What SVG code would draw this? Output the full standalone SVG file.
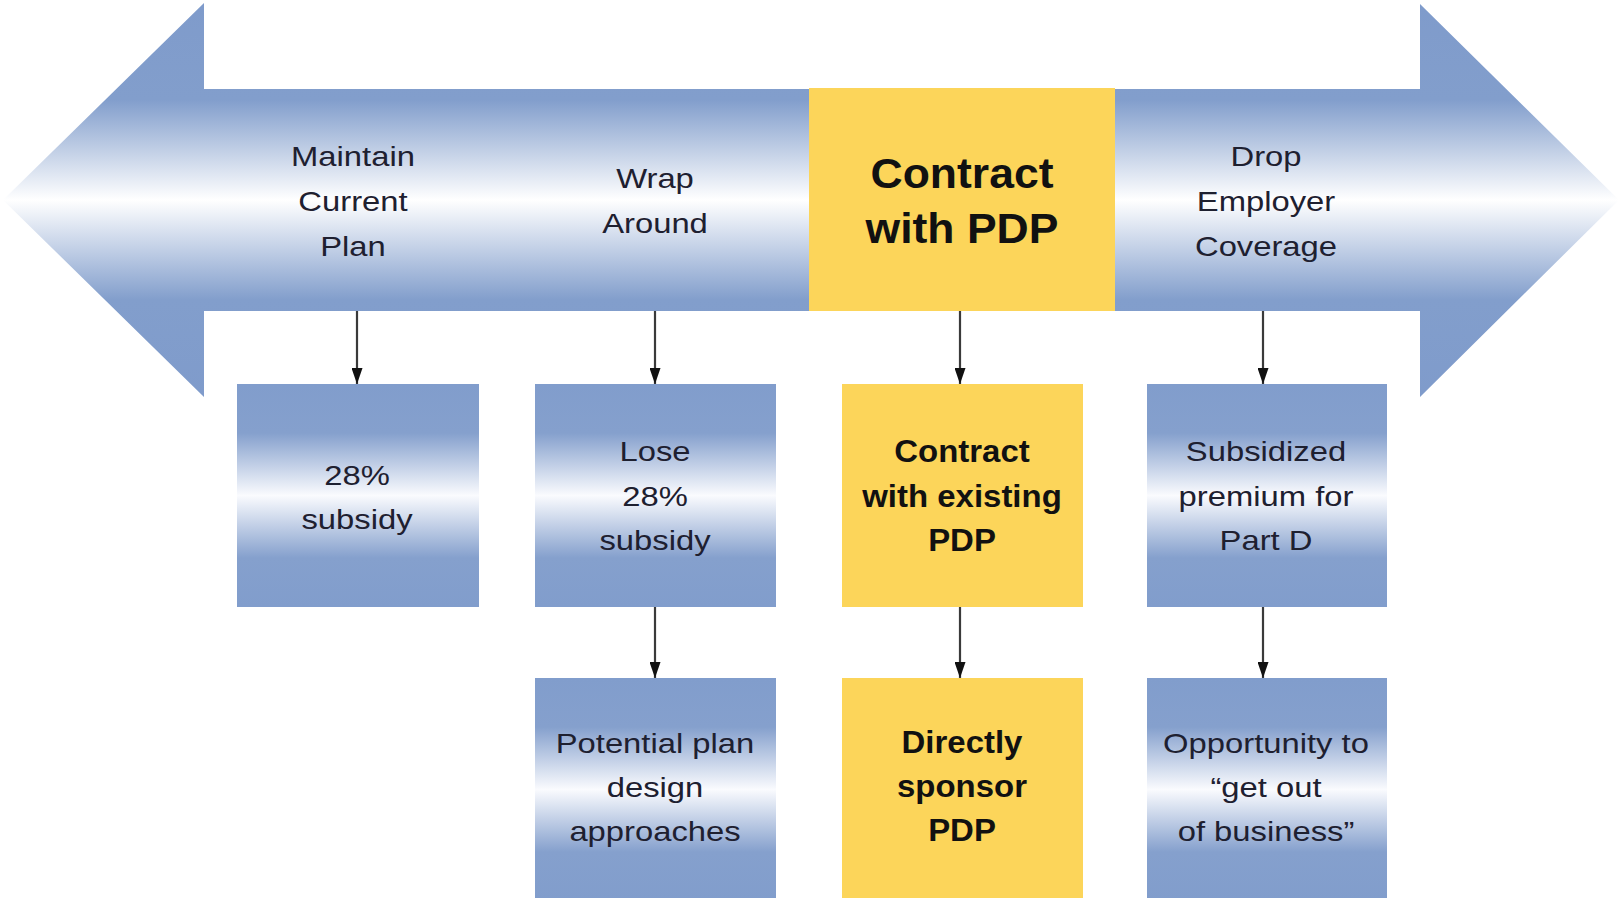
<svg xmlns="http://www.w3.org/2000/svg" width="1623" height="898" viewBox="0 0 1623 898">
  <defs>
    <style>
      .lbl { font-family: "Liberation Sans", Arial, sans-serif; font-size: 28.5px; fill: #1e2030; text-anchor: middle; }
      .bold { font-family: "Liberation Sans", Arial, sans-serif; font-weight: bold; fill: #111111; text-anchor: middle; }
      .big { font-size: 42px; }
      .mid { font-size: 32px; }
      .blue { fill: url(#boxFade); }
      .gold { fill: #fcd55a; }
      .wire { stroke: #3a3a3a; stroke-width: 2.2; fill: none; marker-end: url(#tip); }
    </style>
    <!-- banner shading: solid blue at the edges, white along the centre line -->
    <linearGradient id="bandFade" gradientUnits="userSpaceOnUse" x1="0" y1="0" x2="0" y2="400">
      <stop offset="0" stop-color="#7f9bcb"/>
      <stop offset="0.25" stop-color="#829ecc"/>
      <stop offset="0.5" stop-color="#ffffff"/>
      <stop offset="0.75" stop-color="#829ecc"/>
      <stop offset="1" stop-color="#7f9bcb"/>
    </linearGradient>
    <linearGradient id="boxFade" x1="0" y1="0" x2="0" y2="1">
      <stop offset="0" stop-color="#819dcc"/>
      <stop offset="0.22" stop-color="#85a0cd"/>
      <stop offset="0.5" stop-color="#fafbfe"/>
      <stop offset="0.78" stop-color="#85a0cd"/>
      <stop offset="1" stop-color="#819dcc"/>
    </linearGradient>
    <marker id="tip" viewBox="0 0 16 11" refX="16" refY="5.5" markerWidth="16" markerHeight="11" markerUnits="userSpaceOnUse" orient="auto">
      <path d="M0,0 L16,5.5 L0,11 Z" fill="#111111"/>
    </marker>
  </defs>

  <rect width="1623" height="898" fill="#ffffff"/>

  <!-- double-headed banner -->
  <g id="banner">
    <polygon points="3,200 204,3 204,89 1420,89 1420,4 1619,200 1420,397 1420,311 204,311 204,397" fill="url(#bandFade)"/>
  </g>

  <g id="maintain">
    <text class="lbl" transform="translate(353 0) scale(1.15 1)"><tspan x="0" y="166">Maintain</tspan><tspan x="0" y="211">Current</tspan><tspan x="0" y="256">Plan</tspan></text>
  </g>

  <g id="wrap">
    <text class="lbl" transform="translate(655 0) scale(1.15 1)"><tspan x="0" y="188">Wrap</tspan><tspan x="0" y="233">Around</tspan></text>
  </g>

  <g id="contract">
    <rect class="gold" x="809" y="88" width="306" height="223"/>
    <text class="bold big" transform="translate(962 0) scale(1.06 1)"><tspan x="0" y="188">Contract</tspan><tspan x="0" y="243">with PDP</tspan></text>
  </g>

  <g id="drop">
    <text class="lbl" transform="translate(1266 0) scale(1.15 1)"><tspan x="0" y="166">Drop</tspan><tspan x="0" y="211">Employer</tspan><tspan x="0" y="256">Coverage</tspan></text>
  </g>

  <!-- first row of outcome boxes -->
  <g id="keep-subsidy">
    <rect class="blue" x="237" y="384" width="242" height="223"/>
    <text class="lbl" transform="translate(357 0) scale(1.15 1)"><tspan x="0" y="485">28%</tspan><tspan x="0" y="529">subsidy</tspan></text>
  </g>

  <g id="lose-subsidy">
    <rect class="blue" x="535" y="384" width="241" height="223"/>
    <text class="lbl" transform="translate(655 0) scale(1.15 1)"><tspan x="0" y="461">Lose</tspan><tspan x="0" y="506">28%</tspan><tspan x="0" y="550">subsidy</tspan></text>
  </g>

  <g id="existing-pdp">
    <rect class="gold" x="842" y="384" width="241" height="223"/>
    <text class="bold mid" transform="translate(962 0) scale(1.03 1)"><tspan x="0" y="462">Contract</tspan><tspan x="0" y="507">with existing</tspan><tspan x="0" y="551">PDP</tspan></text>
  </g>

  <g id="part-d">
    <rect class="blue" x="1147" y="384" width="240" height="223"/>
    <text class="lbl" transform="translate(1266 0) scale(1.15 1)"><tspan x="0" y="461">Subsidized</tspan><tspan x="0" y="506">premium for</tspan><tspan x="0" y="550">Part D</tspan></text>
  </g>

  <!-- second row of outcome boxes -->
  <g id="plan-design">
    <rect class="blue" x="535" y="678" width="241" height="223"/>
    <text class="lbl" transform="translate(655 0) scale(1.15 1)"><tspan x="0" y="753">Potential plan</tspan><tspan x="0" y="797">design</tspan><tspan x="0" y="841">approaches</tspan></text>
  </g>

  <g id="sponsor-pdp">
    <rect class="gold" x="842" y="678" width="241" height="223"/>
    <text class="bold mid" transform="translate(962 0) scale(1.03 1)"><tspan x="0" y="753">Directly</tspan><tspan x="0" y="797">sponsor</tspan><tspan x="0" y="841">PDP</tspan></text>
  </g>

  <g id="exit">
    <rect class="blue" x="1147" y="678" width="240" height="223"/>
    <text class="lbl" transform="translate(1266 0) scale(1.15 1)"><tspan x="0" y="753">Opportunity to</tspan><tspan x="0" y="797">“get out</tspan><tspan x="0" y="841">of business”</tspan></text>
  </g>

  <!-- connectors -->
  <g id="connectors">
    <line class="wire" x1="357" y1="311" x2="357" y2="384"/>
    <line class="wire" x1="655" y1="311" x2="655" y2="384"/>
    <line class="wire" x1="960" y1="311" x2="960" y2="384"/>
    <line class="wire" x1="1263" y1="311" x2="1263" y2="384"/>
    <line class="wire" x1="655" y1="607" x2="655" y2="678"/>
    <line class="wire" x1="960" y1="607" x2="960" y2="678"/>
    <line class="wire" x1="1263" y1="607" x2="1263" y2="678"/>
  </g>
</svg>
